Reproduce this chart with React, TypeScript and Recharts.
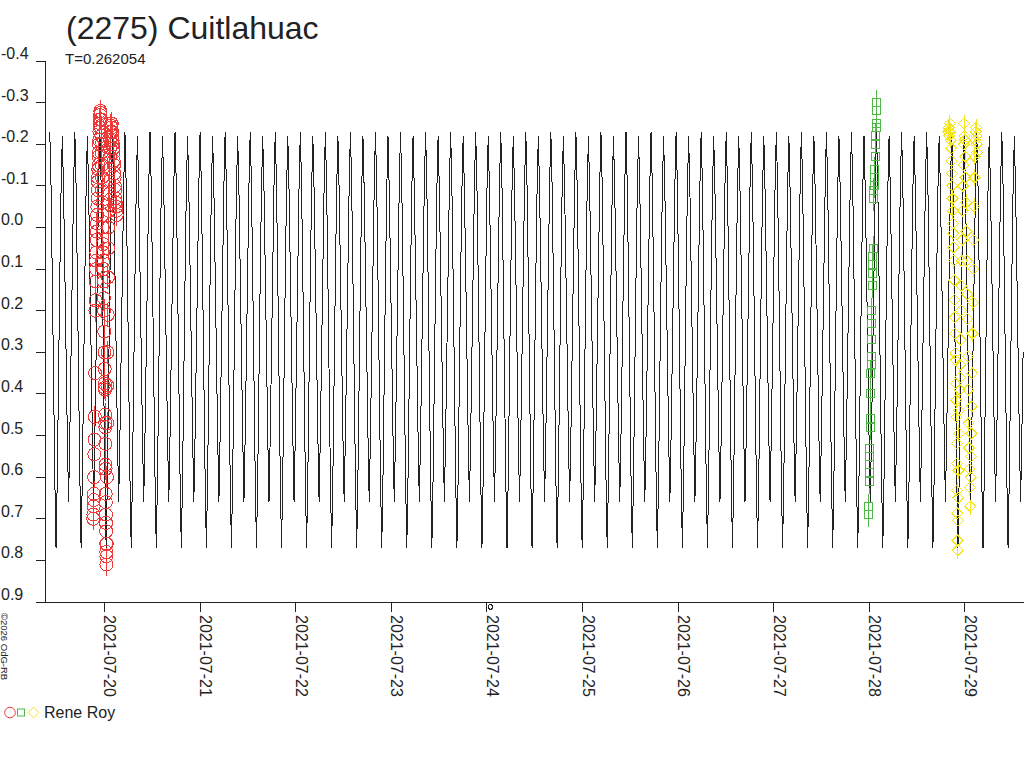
import React from "react";
import { ComposedChart, Line, Scatter, XAxis, YAxis, ErrorBar } from "recharts";

const TITLE = "(2275) Cuitlahuac";
const PERIOD_LABEL = "T=0.262054";
const OBSERVER = "Rene Roy";
const COPYRIGHT = "©2026 OdG-RB";

// time axis: days since 2021-07-20 00:00 UT
const X_DOMAIN = [-0.617, 9.618];
const X_TICKS = [0, 1, 2, 3, 4, 5, 6, 7, 8, 9];
const X_LABELS = [
  "2021-07-20",
  "2021-07-21",
  "2021-07-22",
  "2021-07-23",
  "2021-07-24",
  "2021-07-25",
  "2021-07-26",
  "2021-07-27",
  "2021-07-28",
  "2021-07-29",
];
const MARKED_TICK = 4; // small circle drawn at this date label
const Y_TICKS = [-0.4, -0.3, -0.2, -0.1, 0, 0.1, 0.2, 0.3, 0.4, 0.5, 0.6, 0.7, 0.8, 0.9];

// model lightcurve: one rotation, repeated with the period
const PERIOD = 0.262054;
const EPOCH = 0.476; // brighter maximum
const PHASES = [0, 0.05, 0.1, 0.15, 0.2, 0.25, 0.3, 0.35, 0.4, 0.45, 0.5, 0.55, 0.6, 0.65, 0.7, 0.75, 0.8, 0.85, 0.9, 0.95];
const PROFILE = [-0.23, -0.1, 0.12, 0.36, 0.6, 0.77, 0.6, 0.36, 0.12, -0.09, -0.22, -0.09, 0.1, 0.3, 0.5, 0.66, 0.5, 0.3, 0.1, -0.1];

// observations [t, mag]
const RED_OBS = [
  [-0.118, 0.7], [-0.116, 0.69], [-0.114, 0.67], [-0.112, 0.655], [-0.11, 0.64], [-0.108, 0.6],
  [-0.106, 0.545], [-0.104, 0.51], [-0.101, 0.455], [-0.098, 0.35], [-0.095, 0.2], [-0.093, 0.175],
  [-0.091, 0.13], [-0.089, 0.1], [-0.087, 0.08], [-0.085, 0.06], [-0.083, 0.03], [-0.081, 0.01],
  [-0.079, -0.01], [-0.077, -0.03], [-0.075, -0.05], [-0.073, -0.07], [-0.071, -0.09], [-0.069, -0.11],
  [-0.067, -0.12], [-0.065, -0.14], [-0.063, -0.15], [-0.061, -0.17], [-0.059, -0.18], [-0.057, -0.2],
  [-0.055, -0.21], [-0.053, -0.23], [-0.051, -0.24], [-0.049, -0.25], [-0.047, -0.26], [-0.045, -0.27],
  [-0.043, -0.28], [-0.041, -0.275], [-0.038, -0.26], [-0.036, -0.24], [-0.034, -0.22], [-0.032, -0.2],
  [-0.03, -0.18], [-0.028, -0.15], [-0.026, -0.12], [-0.024, -0.09], [-0.022, -0.06], [-0.02, -0.03],
  [-0.018, 0.0], [-0.016, 0.04], [-0.014, 0.06], [-0.012, 0.08], [-0.01, 0.1], [-0.008, 0.13],
  [-0.006, 0.17], [-0.004, 0.2], [-0.002, 0.25], [0.0, 0.3], [0.002, 0.34], [0.004, 0.375],
  [0.005, 0.385], [0.006, 0.39], [0.007, 0.45], [0.008, 0.47], [0.009, 0.48], [0.01, 0.52],
  [0.011, 0.57], [0.012, 0.58], [0.013, 0.64], [0.014, 0.66], [0.015, 0.69], [0.016, 0.71],
  [0.017, 0.73], [0.018, 0.76], [0.019, 0.78], [0.02, 0.79], [0.021, 0.81], [0.024, 0.76],
  [0.026, 0.6], [0.028, 0.47], [0.03, 0.38], [0.032, 0.3], [0.034, 0.21], [0.036, 0.12],
  [0.038, 0.05], [0.04, 0.0], [0.043, -0.04], [0.046, -0.08], [0.049, -0.11], [0.052, -0.14],
  [0.055, -0.17], [0.058, -0.19], [0.061, -0.21], [0.064, -0.23], [0.067, -0.245], [0.07, -0.25],
  [0.073, -0.24], [0.076, -0.25], [0.079, -0.23], [0.082, -0.22], [0.085, -0.21], [0.088, -0.2],
  [0.091, -0.19], [0.094, -0.18], [0.097, -0.16], [0.1, -0.15], [0.103, -0.13], [0.106, -0.12],
  [0.109, -0.1], [0.112, -0.09], [0.115, -0.07], [0.118, -0.06], [0.121, -0.05], [0.124, -0.04],
  [0.127, -0.03],
];
const GREEN_OBS = [
  [7.993, 0.69], [7.995, 0.67], [7.998, 0.61], [8.0, 0.59], [8.002, 0.57], [8.004, 0.55],
  [8.006, 0.53], [8.009, 0.48], [8.011, 0.46], [8.014, 0.4], [8.017, 0.35], [8.018, 0.33],
  [8.02, 0.31], [8.023, 0.27], [8.026, 0.23], [8.028, 0.2], [8.031, 0.14], [8.034, 0.11],
  [8.036, 0.09], [8.038, 0.07], [8.04, 0.05], [8.045, -0.07], [8.048, -0.09], [8.05, -0.1],
  [8.053, -0.12], [8.056, -0.14], [8.06, -0.17], [8.064, -0.2], [8.067, -0.22], [8.07, -0.24],
  [8.073, -0.25], [8.076, -0.28], [8.079, -0.3],
];
const YELLOW_OBS = [
  [8.824, -0.23], [8.83, -0.24], [8.836, -0.22], [8.842, -0.25], [8.848, -0.23], [8.852, -0.21],
  [8.858, -0.19], [8.861, -0.16], [8.864, -0.13], [8.867, -0.1], [8.87, -0.07], [8.873, -0.04],
  [8.876, -0.01], [8.879, 0.014], [8.882, 0.048], [8.885, 0.079], [8.888, 0.127], [8.891, 0.175],
  [8.894, 0.216], [8.897, 0.255], [8.9, 0.302], [8.903, 0.319], [8.906, 0.375], [8.909, 0.415],
  [8.912, 0.456], [8.915, 0.519], [8.917, 0.567], [8.919, 0.632], [8.921, 0.687], [8.923, 0.752],
  [8.925, 0.776], [8.928, 0.704], [8.931, 0.649], [8.934, 0.584], [8.937, 0.495], [8.94, 0.44],
  [8.944, 0.39], [8.948, 0.36], [8.952, 0.33], [8.956, 0.27], [8.96, 0.2], [8.964, 0.14],
  [8.968, 0.08], [8.972, 0.03], [8.976, -0.04], [8.98, -0.1], [8.984, -0.15], [8.988, -0.2],
  [8.992, -0.25], [8.996, -0.22], [9.0, -0.21], [9.004, -0.17], [9.008, -0.12], [9.012, -0.06],
  [9.016, 0.01], [9.02, 0.08], [9.024, 0.16], [9.028, 0.22], [9.032, 0.31], [9.036, 0.39],
  [9.04, 0.47], [9.044, 0.53], [9.048, 0.58], [9.052, 0.625], [9.056, 0.67], [9.06, 0.6],
  [9.064, 0.55], [9.068, 0.495], [9.072, 0.43], [9.076, 0.35], [9.08, 0.255], [9.084, 0.18],
  [9.088, 0.1], [9.092, 0.03], [9.096, -0.05], [9.1, -0.12], [9.104, -0.17], [9.108, -0.21],
  [9.112, -0.23], [9.116, -0.24], [9.12, -0.22], [9.124, -0.2], [9.128, -0.18],
];
const RED_ERR = 0.027;
const GREEN_ERR = 0.03;
const YELLOW_ERR = 0.02;

const RED = "#ef3a3a";
const GREEN = "#4fb846";
const YELLOW = "#f3e51c";
const INK = "#222";
const FONT = "'Liberation Sans', Arial, sans-serif";

const curve: { t: number; mag: number }[] = [];
for (let k = -4; k < 40; k++) {
  PHASES.forEach((ph, i) => {
    const t = EPOCH + (k + ph) * PERIOD;
    if (t >= X_DOMAIN[0] && t <= X_DOMAIN[1]) curve.push({ t, mag: PROFILE[i] });
  });
}

const toRows = (obs: number[][], err: number) => obs.map(([t, mag]) => ({ t, mag, err }));
const redRows = toRows(RED_OBS, RED_ERR);
const greenRows = toRows(GREEN_OBS, GREEN_ERR);
const yellowRows = toRows(YELLOW_OBS, YELLOW_ERR);

const Circle = (p: any) => <circle cx={p.cx} cy={p.cy} r={6.5} fill="none" stroke={RED} />;
const Square = (p: any) => (
  <rect x={p.cx - 4} y={p.cy - 4} width={8} height={8} fill="none" stroke={GREEN} />
);
const Diamond = (p: any) => (
  <path
    d={`M${p.cx},${p.cy - 5.5}L${p.cx + 5.5},${p.cy}L${p.cx},${p.cy + 5.5}L${p.cx - 5.5},${p.cy}Z`}
    fill="none"
    stroke={YELLOW}
  />
);

const YTick = (p: any) => (
  <text x={1} y={p.y - 2} fontSize={16} fill={INK} fontFamily={FONT}>
    {Number(p.payload.value).toFixed(1)}
  </text>
);

const XTick = (p: any) => (
  <g>
    {p.payload.value === MARKED_TICK && (
      <circle cx={p.x + 3.5} cy={607} r={2.3} fill="none" stroke={INK} />
    )}
    <text transform={`translate(${p.x},615) rotate(90)`} fontSize={16} fill={INK} fontFamily={FONT}>
      {X_LABELS[X_TICKS.indexOf(p.payload.value)]}
    </text>
  </g>
);

export default function App() {
  return (
    <div
      style={{
        position: "absolute",
        left: 0,
        top: 0,
        width: 1024,
        height: 768,
        background: "#fff",
        fontFamily: FONT,
        overflow: "hidden",
      }}
    >
      <style>{`.chart svg path, .chart svg line, .chart svg rect, .chart svg circle { shape-rendering: crispEdges; }`}</style>
      <div className="chart" style={{ position: "absolute", left: 0, top: 0 }}>
        <ComposedChart width={1024} height={768} margin={{ top: 61, right: 0, bottom: 0, left: 0 }}>
          <XAxis
            dataKey="t"
            type="number"
            domain={X_DOMAIN}
            ticks={X_TICKS}
            allowDataOverflow
            height={166}
            tickSize={10}
            tick={<XTick />}
            axisLine={{ stroke: INK }}
            tickLine={{ stroke: INK }}
            interval={0}
          />
          <YAxis
            dataKey="mag"
            type="number"
            domain={[-0.4, 0.9]}
            ticks={Y_TICKS}
            reversed
            allowDataOverflow
            width={45.5}
            tickSize={10}
            tick={<YTick />}
            axisLine={{ stroke: INK }}
            tickLine={{ stroke: INK }}
            interval={0}
          />
          <Scatter data={redRows} dataKey="mag" shape={Circle} isAnimationActive={false}>
            <ErrorBar dataKey="err" direction="y" width={0} stroke={RED} strokeWidth={1} />
          </Scatter>
          <Scatter data={greenRows} dataKey="mag" shape={Square} isAnimationActive={false}>
            <ErrorBar dataKey="err" direction="y" width={0} stroke={GREEN} strokeWidth={1} />
          </Scatter>
          <Scatter data={yellowRows} dataKey="mag" shape={Diamond} isAnimationActive={false}>
            <ErrorBar dataKey="err" direction="y" width={0} stroke={YELLOW} strokeWidth={1} />
          </Scatter>
          <Line
            data={curve}
            dataKey="mag"
            type="linear"
            stroke={INK}
            strokeWidth={1}
            dot={false}
            activeDot={false}
            isAnimationActive={false}
          />
        </ComposedChart>
      </div>
      <svg
        width={1024}
        height={768}
        style={{ position: "absolute", left: 0, top: 0, pointerEvents: "none" }}
      >
        <text x={66} y={39} fontSize={32} fill={INK} fontFamily={FONT}>
          {TITLE}
        </text>
        <text x={65} y={64} fontSize={15} fill={INK} fontFamily={FONT}>
          {PERIOD_LABEL}
        </text>
        <text transform="translate(1,613) rotate(90)" fontSize={9.5} fill={INK} fontFamily={FONT}>
          {COPYRIGHT}
        </text>
        <circle cx={10} cy={712.5} r={5.3} fill="none" stroke={RED} />
        <rect x={17.5} y={709} width={7} height={7} fill="none" stroke={GREEN} />
        <path d="M33.5,707.2L38.8,712.5L33.5,717.8L28.2,712.5Z" fill="none" stroke={YELLOW} />
        <text x={44} y={718} fontSize={16} fill={INK} fontFamily={FONT}>
          {OBSERVER}
        </text>
      </svg>
    </div>
  );
}
